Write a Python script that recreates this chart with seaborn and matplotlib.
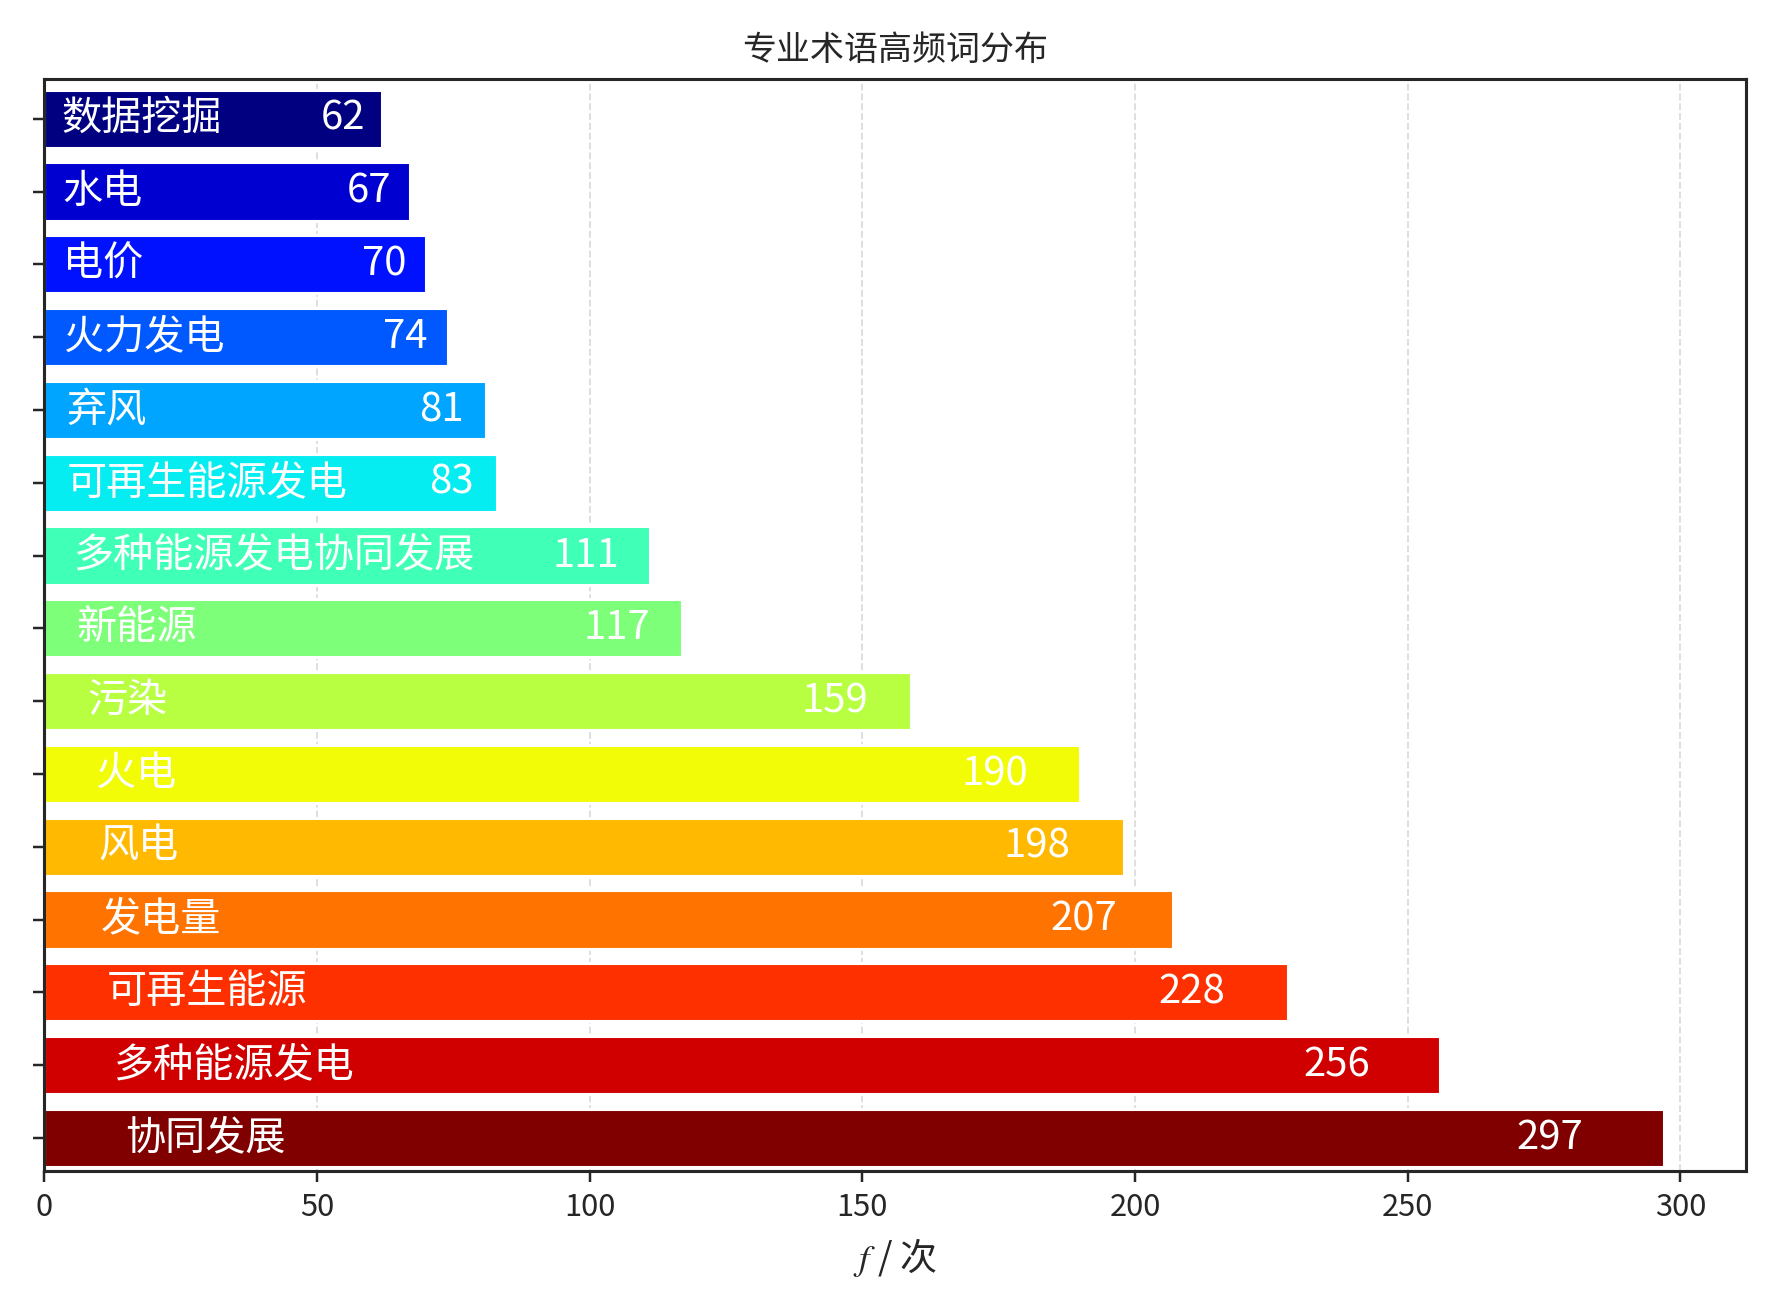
import matplotlib
matplotlib.use("Agg")
import matplotlib.pyplot as plt
import numpy as np
import seaborn as sns

terms = ["数据挖掘", "水电", "电价", "火力发电", "弃风", "可再生能源发电", "多种能源发电协同发展",
         "新能源", "污染", "火电", "风电", "发电量", "可再生能源", "多种能源发电", "协同发展"]
counts = [62, 67, 70, 74, 81, 83, 111, 117, 159, 190, 198, 207, 228, 256, 297]

sns.set_style("ticks")
plt.rcParams['font.family'] = ['Noto Sans CJK SC', 'DejaVu Sans']
plt.rcParams['mathtext.fontset'] = 'stix'

colors = [plt.cm.jet(v) for v in np.linspace(0, 1, len(terms))]

fig, ax = plt.subplots(figsize=(8.0, 5.9), dpi=222.4)
sns.barplot(x=counts, y=terms, hue=terms, palette=colors, orient="h",
            width=0.8, saturation=1, legend=False, ax=ax, zorder=2)

for i, (t, c) in enumerate(zip(terms, counts)):
    ax.text(c * 0.05, i, t, ha="left", va="center", color="white", fontsize=13, zorder=3)
    ax.text(c * 0.95, i, str(c), ha="right", va="center", color="white", fontsize=13, zorder=3)

ax.set_yticks(range(len(terms)))
ax.set_yticklabels([])
ax.set_ylim(len(terms) - 0.55, -0.55)
ax.set_xlim(0, 312)
ax.set_xticks([0, 50, 100, 150, 200, 250, 300])
ax.grid(axis="x", linestyle="--", color="#dddddd", linewidth=0.6, zorder=0)
ax.set_axisbelow(True)
for s in ax.spines.values():
    s.set_visible(True)
    s.set_linewidth(1.0)
ax.tick_params(labelsize=10)
ax.set_title("专业术语高频词分布", fontsize=11)
ax.set_xlabel("$f$ / 次", fontsize=12)
ax.set_ylabel("")
fig.tight_layout()
fig.savefig("out.png")
